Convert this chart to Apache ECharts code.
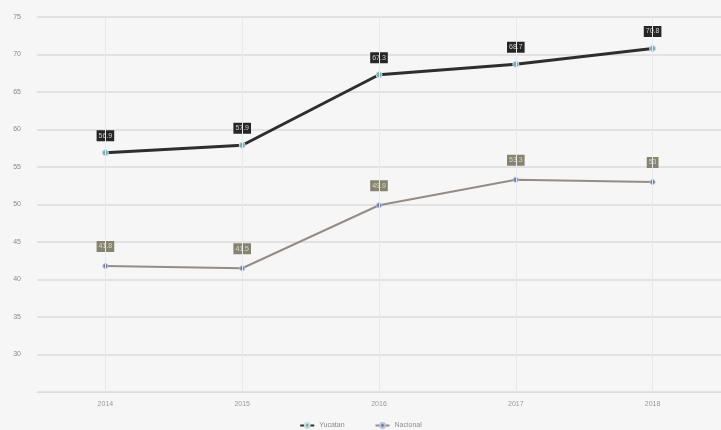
<!DOCTYPE html>
<html><head><meta charset="utf-8">
<script src="https://cdn.jsdelivr.net/npm/echarts@6/dist/echarts.min.js"></script>
<style>html,body{margin:0;padding:0;background:#f6f6f6;}#c{width:721px;height:430px;}</style>
</head><body><div id="c"></div>
<script>
var years = ['2014','2015','2016','2017','2018'];
var yucatan = [56.9, 57.9, 67.3, 68.7, 70.8];
var nacional = [41.8, 41.5, 49.9, 53.3, 53.0];
var seriesNames = ['Yucatan','Nacional'];

var chart = echarts.init(document.getElementById('c'));
chart.setOption({
  backgroundColor: '#f6f6f6',
  animation: false,
  grid: {left: 37, right: 0, top: 17, bottom: 38},
  legend: {
    top: 417, left: 'center', itemWidth: 14, itemHeight: 6, itemGap: 30,
    textStyle: {color: '#8e8e8e', fontSize: 7, fontFamily: 'Liberation Sans'},
    data: seriesNames
  },
  xAxis: {
    type: 'category', data: years, boundaryGap: true,
    axisLine: {lineStyle: {color: '#dcdcdc', width: 1}},
    axisTick: {show: false},
    splitLine: {show: false},
    axisLabel: {color: '#9a9a9a', fontSize: 7, margin: 9, fontFamily: 'Liberation Sans'}
  },
  yAxis: {
    type: 'value', min: 25, max: 75, interval: 5,
    axisLine: {show: false}, axisTick: {show: false},
    splitLine: {lineStyle: {color: '#e2e2e2', width: 2}},
    axisLabel: {color: '#8a8a8a', fontSize: 7, margin: 16, showMinLabel: false, fontFamily: 'Liberation Sans'}
  },
  series: [
    {
      name: 'Yucatan', type: 'line', data: yucatan, z: 3,
      symbol: 'circle', symbolSize: 6,
      lineStyle: {color: '#2e2e2e', width: 3},
      itemStyle: {color: '#74aab2', borderColor: '#c8dde0', borderWidth: 1},
      label: {show: true, position: 'top', distance: 8, fontSize: 7, color: '#cfcfcf',
        backgroundColor: '#262626', padding: [2, 2], fontFamily: 'Liberation Sans'},
      markLine: {
        silent: true, symbol: 'none', label: {show: false},
        lineStyle: {color: '#e6e9ee', width: 1, type: 'solid'},
        data: years.map(function (y) { return {xAxis: y}; })
      }
    },
    {
      name: 'Nacional', type: 'line', data: nacional, z: 2,
      symbol: 'circle', symbolSize: 5,
      lineStyle: {color: '#968c86', width: 2},
      itemStyle: {color: '#6c7aa8', borderColor: '#b8c0da', borderWidth: 1},
      label: {show: true, position: 'top', distance: 11, fontSize: 7, color: '#d8d6cc',
        backgroundColor: '#86846f', padding: [2, 2], fontFamily: 'Liberation Sans'}
    }
  ]
});
</script></body></html>
